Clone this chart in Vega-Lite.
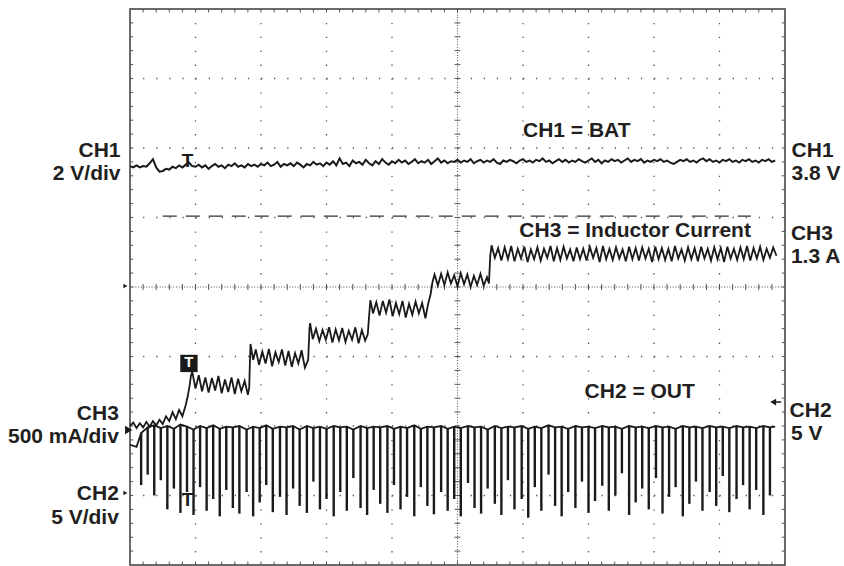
{
 "$schema": "https://vega.github.io/schema/vega-lite/v6.json",
 "width": 655, "height": 556,
 "autosize": {"type": "none"},
 "padding": {"left": 130, "top": 9, "right": 59, "bottom": 1},
 "background": "white",
 "config": {"view": {"stroke": "#3a3a3a", "strokeWidth": 1.5}, "axis": {"disable": true}, "text": {"font": "Liberation Sans"}},
 "datasets": {
  "vg": [{"v":1},{"v":2},{"v":3},{"v":4},{"v":6},{"v":7},{"v":8},{"v":9}],
  "hg": [{"v":-3},{"v":-2},{"v":-1},{"v":1},{"v":2},{"v":3}],
  "yt": [{"v":-3.8},{"v":-3.6},{"v":-3.4},{"v":-3.2},{"v":-3},{"v":-2.8},{"v":-2.6},{"v":-2.4},{"v":-2.2},{"v":-2},{"v":-1.8},{"v":-1.6},{"v":-1.4},{"v":-1.2},{"v":-1},{"v":-0.8},{"v":-0.6},{"v":-0.4},{"v":-0.2},{"v":0},{"v":0.2},{"v":0.4},{"v":0.6},{"v":0.8},{"v":1},{"v":1.2},{"v":1.4},{"v":1.6},{"v":1.8},{"v":2},{"v":2.2},{"v":2.4},{"v":2.6},{"v":2.8},{"v":3},{"v":3.2},{"v":3.4},{"v":3.6},{"v":3.8}],
  "xt": [{"v":0.2},{"v":0.4},{"v":0.6},{"v":0.8},{"v":1},{"v":1.2},{"v":1.4},{"v":1.6},{"v":1.8},{"v":2},{"v":2.2},{"v":2.4},{"v":2.6},{"v":2.8},{"v":3},{"v":3.2},{"v":3.4},{"v":3.6},{"v":3.8},{"v":4},{"v":4.2},{"v":4.4},{"v":4.6},{"v":4.8},{"v":5},{"v":5.2},{"v":5.4},{"v":5.6},{"v":5.8},{"v":6},{"v":6.2},{"v":6.4},{"v":6.6},{"v":6.8},{"v":7},{"v":7.2},{"v":7.4},{"v":7.6},{"v":7.8},{"v":8},{"v":8.2},{"v":8.4},{"v":8.6},{"v":8.8},{"v":9},{"v":9.2},{"v":9.4},{"v":9.6},{"v":9.8}],
  "ch1": [
   {"t":0,"v":1.74},{"t":0.05,"v":1.72},{"t":0.1,"v":1.75},{"t":0.15,"v":1.72},{"t":0.2,"v":1.74},{"t":0.25,"v":1.73},{"t":0.3,"v":1.78},{"t":0.35,"v":1.84},{"t":0.4,"v":1.72},{"t":0.45,"v":1.66},
   {"t":0.5,"v":1.67},{"t":0.55,"v":1.7},{"t":0.6,"v":1.69},{"t":0.65,"v":1.73},{"t":0.7,"v":1.71},{"t":0.75,"v":1.75},{"t":0.8,"v":1.72},{"t":0.85,"v":1.76},{"t":0.9,"v":1.79},{"t":0.95,"v":1.74},
   {"t":1,"v":1.73},{"t":1.05,"v":1.76},{"t":1.1,"v":1.72},{"t":1.15,"v":1.75},{"t":1.2,"v":1.7},{"t":1.25,"v":1.74},{"t":1.3,"v":1.77},{"t":1.35,"v":1.73},{"t":1.4,"v":1.75},{"t":1.45,"v":1.71},
   {"t":1.5,"v":1.76},{"t":1.55,"v":1.74},{"t":1.6,"v":1.78},{"t":1.65,"v":1.73},{"t":1.7,"v":1.75},{"t":1.75,"v":1.72},{"t":1.8,"v":1.77},{"t":1.85,"v":1.74},{"t":1.9,"v":1.76},{"t":1.95,"v":1.73},
   {"t":2,"v":1.77},{"t":2.05,"v":1.75},{"t":2.1,"v":1.79},{"t":2.15,"v":1.74},{"t":2.2,"v":1.76},{"t":2.25,"v":1.8},{"t":2.3,"v":1.73},{"t":2.35,"v":1.77},{"t":2.4,"v":1.75},{"t":2.45,"v":1.78},
   {"t":2.5,"v":1.74},{"t":2.55,"v":1.79},{"t":2.6,"v":1.76},{"t":2.65,"v":1.72},{"t":2.7,"v":1.77},{"t":2.75,"v":1.75},{"t":2.8,"v":1.8},{"t":2.85,"v":1.76},{"t":2.9,"v":1.78},{"t":2.95,"v":1.74},
   {"t":3,"v":1.79},{"t":3.05,"v":1.76},{"t":3.1,"v":1.81},{"t":3.15,"v":1.75},{"t":3.2,"v":1.85},{"t":3.25,"v":1.77},{"t":3.3,"v":1.79},{"t":3.35,"v":1.74},{"t":3.4,"v":1.82},{"t":3.45,"v":1.78},
   {"t":3.5,"v":1.8},{"t":3.55,"v":1.76},{"t":3.6,"v":1.83},{"t":3.65,"v":1.78},{"t":3.7,"v":1.75},{"t":3.75,"v":1.81},{"t":3.8,"v":1.77},{"t":3.85,"v":1.84},{"t":3.9,"v":1.79},{"t":3.95,"v":1.76},
   {"t":4,"v":1.81},{"t":4.05,"v":1.78},{"t":4.1,"v":1.83},{"t":4.15,"v":1.79},{"t":4.2,"v":1.82},{"t":4.25,"v":1.77},{"t":4.3,"v":1.8},{"t":4.35,"v":1.84},{"t":4.4,"v":1.78},{"t":4.45,"v":1.81},
   {"t":4.5,"v":1.79},{"t":4.55,"v":1.83},{"t":4.6,"v":1.77},{"t":4.65,"v":1.81},{"t":4.7,"v":1.85},{"t":4.75,"v":1.79},{"t":4.8,"v":1.82},{"t":4.85,"v":1.78},{"t":4.9,"v":1.81},{"t":4.95,"v":1.8},
   {"t":5,"v":1.83},{"t":5.05,"v":1.79},{"t":5.1,"v":1.82},{"t":5.15,"v":1.8},{"t":5.2,"v":1.84},{"t":5.25,"v":1.78},{"t":5.3,"v":1.81},{"t":5.35,"v":1.83},{"t":5.4,"v":1.79},{"t":5.45,"v":1.82},
   {"t":5.5,"v":1.8},{"t":5.55,"v":1.84},{"t":5.6,"v":1.79},{"t":5.65,"v":1.77},{"t":5.7,"v":1.82},{"t":5.75,"v":1.8},{"t":5.8,"v":1.83},{"t":5.85,"v":1.81},{"t":5.9,"v":1.78},{"t":5.95,"v":1.82},
   {"t":6,"v":1.84},{"t":6.05,"v":1.8},{"t":6.1,"v":1.82},{"t":6.15,"v":1.79},{"t":6.2,"v":1.83},{"t":6.25,"v":1.81},{"t":6.3,"v":1.85},{"t":6.35,"v":1.8},{"t":6.4,"v":1.82},{"t":6.45,"v":1.78},
   {"t":6.5,"v":1.81},{"t":6.55,"v":1.84},{"t":6.6,"v":1.8},{"t":6.65,"v":1.83},{"t":6.7,"v":1.79},{"t":6.75,"v":1.82},{"t":6.8,"v":1.8},{"t":6.85,"v":1.84},{"t":6.9,"v":1.81},{"t":6.95,"v":1.79},
   {"t":7,"v":1.82},{"t":7.05,"v":1.85},{"t":7.1,"v":1.8},{"t":7.15,"v":1.83},{"t":7.2,"v":1.78},{"t":7.25,"v":1.82},{"t":7.3,"v":1.8},{"t":7.35,"v":1.84},{"t":7.4,"v":1.81},{"t":7.45,"v":1.83},
   {"t":7.5,"v":1.79},{"t":7.55,"v":1.82},{"t":7.6,"v":1.85},{"t":7.65,"v":1.8},{"t":7.7,"v":1.83},{"t":7.75,"v":1.81},{"t":7.8,"v":1.84},{"t":7.85,"v":1.79},{"t":7.9,"v":1.82},{"t":7.95,"v":1.8},
   {"t":8,"v":1.83},{"t":8.05,"v":1.81},{"t":8.1,"v":1.84},{"t":8.15,"v":1.8},{"t":8.2,"v":1.82},{"t":8.25,"v":1.79},{"t":8.3,"v":1.77},{"t":8.35,"v":1.8},{"t":8.4,"v":1.83},{"t":8.45,"v":1.81},
   {"t":8.5,"v":1.84},{"t":8.55,"v":1.8},{"t":8.6,"v":1.82},{"t":8.65,"v":1.79},{"t":8.7,"v":1.83},{"t":8.75,"v":1.85},{"t":8.8,"v":1.81},{"t":8.85,"v":1.84},{"t":8.9,"v":1.8},{"t":8.95,"v":1.82},
   {"t":9,"v":1.79},{"t":9.05,"v":1.83},{"t":9.1,"v":1.81},{"t":9.15,"v":1.84},{"t":9.2,"v":1.8},{"t":9.25,"v":1.82},{"t":9.3,"v":1.79},{"t":9.35,"v":1.83},{"t":9.4,"v":1.81},{"t":9.45,"v":1.84},
   {"t":9.5,"v":1.8},{"t":9.55,"v":1.82},{"t":9.6,"v":1.79},{"t":9.65,"v":1.83},{"t":9.7,"v":1.81},{"t":9.75,"v":1.84},{"t":9.8,"v":1.8},{"t":9.85,"v":1.82}
  ],
  "ch3": [
   {"t":0,"v":-2},{"t":0.05,"v":-1.95},{"t":0.1,"v":-2.03},{"t":0.15,"v":-1.96},{"t":0.2,"v":-2.02},{"t":0.25,"v":-1.94},{"t":0.3,"v":-2.01},{"t":0.35,"v":-1.93},{"t":0.4,"v":-1.99},{"t":0.45,"v":-1.91},
   {"t":0.5,"v":-1.97},{"t":0.55,"v":-1.86},{"t":0.6,"v":-1.93},{"t":0.65,"v":-1.8},{"t":0.7,"v":-1.9},{"t":0.75,"v":-1.77},{"t":0.8,"v":-1.86},{"t":0.85,"v":-1.7},{"t":0.88,"v":-1.58},{"t":0.91,"v":-1.42},{"t":0.93,"v":-1.28},
   {"t":0.95,"v":-1.22},{"t":1,"v":-1.46},{"t":1.05,"v":-1.27},{"t":1.1,"v":-1.5},{"t":1.15,"v":-1.3},{"t":1.2,"v":-1.52},{"t":1.25,"v":-1.31},{"t":1.3,"v":-1.49},{"t":1.35,"v":-1.28},{"t":1.4,"v":-1.53},
   {"t":1.45,"v":-1.33},{"t":1.5,"v":-1.51},{"t":1.55,"v":-1.3},{"t":1.6,"v":-1.54},{"t":1.65,"v":-1.32},{"t":1.7,"v":-1.5},{"t":1.75,"v":-1.35},{"t":1.8,"v":-1.55},{"t":1.82,"v":-1.45},{"t":1.83,"v":-1.1},
   {"t":1.84,"v":-0.82},{"t":1.88,"v":-1.05},{"t":1.92,"v":-0.9},{"t":1.97,"v":-1.12},{"t":2.02,"v":-0.93},{"t":2.07,"v":-1.1},{"t":2.12,"v":-0.89},{"t":2.17,"v":-1.14},{"t":2.22,"v":-0.94},{"t":2.27,"v":-1.08},
   {"t":2.32,"v":-0.9},{"t":2.37,"v":-1.13},{"t":2.42,"v":-0.92},{"t":2.47,"v":-1.15},{"t":2.52,"v":-0.95},{"t":2.57,"v":-1.1},{"t":2.62,"v":-0.91},{"t":2.67,"v":-1.16},{"t":2.72,"v":-1.05},{"t":2.74,"v":-0.6},
   {"t":2.75,"v":-0.52},{"t":2.79,"v":-0.75},{"t":2.84,"v":-0.6},{"t":2.89,"v":-0.78},{"t":2.94,"v":-0.62},{"t":2.99,"v":-0.76},{"t":3.04,"v":-0.58},{"t":3.09,"v":-0.8},{"t":3.14,"v":-0.61},{"t":3.19,"v":-0.77},
   {"t":3.24,"v":-0.59},{"t":3.29,"v":-0.79},{"t":3.34,"v":-0.63},{"t":3.39,"v":-0.76},{"t":3.44,"v":-0.58},{"t":3.49,"v":-0.81},{"t":3.54,"v":-0.62},{"t":3.59,"v":-0.77},{"t":3.63,"v":-0.68},{"t":3.66,"v":-0.3},
   {"t":3.67,"v":-0.19},{"t":3.71,"v":-0.38},{"t":3.76,"v":-0.22},{"t":3.81,"v":-0.41},{"t":3.86,"v":-0.2},{"t":3.91,"v":-0.37},{"t":3.96,"v":-0.18},{"t":4.01,"v":-0.42},{"t":4.06,"v":-0.23},{"t":4.11,"v":-0.39},
   {"t":4.16,"v":-0.2},{"t":4.21,"v":-0.44},{"t":4.26,"v":-0.24},{"t":4.31,"v":-0.4},{"t":4.36,"v":-0.21},{"t":4.41,"v":-0.38},{"t":4.46,"v":-0.23},{"t":4.51,"v":-0.45},{"t":4.55,"v":-0.25},{"t":4.59,"v":-0.1},{"t":4.62,"v":0.08},
   {"t":4.65,"v":0.18},{"t":4.7,"v":0.02},{"t":4.75,"v":0.19},{"t":4.8,"v":0.03},{"t":4.85,"v":0.21},{"t":4.9,"v":0.05},{"t":4.95,"v":0.17},{"t":5,"v":0.01},{"t":5.05,"v":0.2},{"t":5.1,"v":0.04},
   {"t":5.15,"v":0.18},{"t":5.2,"v":0},{"t":5.25,"v":0.16},{"t":5.3,"v":0.03},{"t":5.35,"v":0.19},{"t":5.4,"v":0.02},{"t":5.45,"v":0.14},{"t":5.48,"v":0.05},{"t":5.5,"v":0.45},
   {"t":5.52,"v":0.6},{"t":5.57,"v":0.42},{"t":5.62,"v":0.56},{"t":5.67,"v":0.38},{"t":5.72,"v":0.57},{"t":5.77,"v":0.4},{"t":5.82,"v":0.59},{"t":5.87,"v":0.37},{"t":5.92,"v":0.55},{"t":5.97,"v":0.41},
   {"t":6.02,"v":0.58},{"t":6.07,"v":0.36},{"t":6.12,"v":0.54},{"t":6.17,"v":0.4},{"t":6.22,"v":0.57},{"t":6.27,"v":0.38},{"t":6.32,"v":0.55},{"t":6.37,"v":0.42},{"t":6.42,"v":0.59},{"t":6.47,"v":0.37},
   {"t":6.52,"v":0.56},{"t":6.57,"v":0.39},{"t":6.62,"v":0.58},{"t":6.67,"v":0.41},{"t":6.72,"v":0.54},{"t":6.77,"v":0.37},{"t":6.82,"v":0.57},{"t":6.87,"v":0.4},{"t":6.92,"v":0.55},{"t":6.97,"v":0.38},
   {"t":7.02,"v":0.58},{"t":7.07,"v":0.42},{"t":7.12,"v":0.56},{"t":7.17,"v":0.36},{"t":7.22,"v":0.59},{"t":7.27,"v":0.4},{"t":7.32,"v":0.55},{"t":7.37,"v":0.39},{"t":7.42,"v":0.57},{"t":7.47,"v":0.41},
   {"t":7.52,"v":0.54},{"t":7.57,"v":0.37},{"t":7.62,"v":0.58},{"t":7.67,"v":0.4},{"t":7.72,"v":0.56},{"t":7.77,"v":0.38},{"t":7.82,"v":0.57},{"t":7.87,"v":0.41},{"t":7.92,"v":0.55},{"t":7.97,"v":0.36},
   {"t":8.02,"v":0.58},{"t":8.07,"v":0.4},{"t":8.12,"v":0.56},{"t":8.17,"v":0.39},{"t":8.22,"v":0.55},{"t":8.27,"v":0.37},{"t":8.32,"v":0.59},{"t":8.37,"v":0.41},{"t":8.42,"v":0.54},{"t":8.47,"v":0.38},
   {"t":8.52,"v":0.57},{"t":8.57,"v":0.4},{"t":8.62,"v":0.56},{"t":8.67,"v":0.37},{"t":8.72,"v":0.58},{"t":8.77,"v":0.41},{"t":8.82,"v":0.55},{"t":8.87,"v":0.38},{"t":8.92,"v":0.57},{"t":8.97,"v":0.4},
   {"t":9.02,"v":0.56},{"t":9.07,"v":0.36},{"t":9.12,"v":0.58},{"t":9.17,"v":0.41},{"t":9.22,"v":0.55},{"t":9.27,"v":0.39},{"t":9.32,"v":0.57},{"t":9.37,"v":0.4},{"t":9.42,"v":0.59},{"t":9.47,"v":0.38},
   {"t":9.52,"v":0.56},{"t":9.57,"v":0.41},{"t":9.62,"v":0.58},{"t":9.67,"v":0.39},{"t":9.72,"v":0.55},{"t":9.77,"v":0.42},{"t":9.82,"v":0.57},{"t":9.87,"v":0.45}
  ],
  "ch2": [
   {"t":0,"hi":-2.27,"lo":-2.27},{"t":0.1,"hi":-2.3,"lo":-2.3},{"t":0.17,"hi":-2.1,"lo":-2.85},{"t":0.27,"hi":-2.02,"lo":-2.7},{"t":0.37,"hi":-1.99,"lo":-3},{"t":0.47,"hi":-2.03,"lo":-2.78},{"t":0.57,"hi":-2,"lo":-3.2},{"t":0.67,"hi":-2.04,"lo":-2.9},{"t":0.77,"hi":-1.98,"lo":-3.25},{"t":0.87,"hi":-2.01,"lo":-2.95},
   {"t":0.97,"hi":-2.05,"lo":-3.28},{"t":1.07,"hi":-2,"lo":-2.88},{"t":1.17,"hi":-2.03,"lo":-3.22},{"t":1.27,"hi":-1.99,"lo":-3.05},{"t":1.37,"hi":-2.04,"lo":-3.3},{"t":1.47,"hi":-2.01,"lo":-2.92},{"t":1.57,"hi":-2.02,"lo":-3.18},{"t":1.67,"hi":-2,"lo":-3.26},{"t":1.78,"hi":-2.05,"lo":-2.95},{"t":1.88,"hi":-2.01,"lo":-3.3},
   {"t":1.98,"hi":-2.03,"lo":-3.1},{"t":2.08,"hi":-1.99,"lo":-2.85},{"t":2.18,"hi":-2.04,"lo":-3.24},{"t":2.29,"hi":-2.01,"lo":-3.02},{"t":2.39,"hi":-2.02,"lo":-3.28},{"t":2.49,"hi":-2,"lo":-2.9},{"t":2.59,"hi":-2.05,"lo":-3.15},{"t":2.7,"hi":-2,"lo":-3.25},{"t":2.8,"hi":-2.03,"lo":-2.8},{"t":2.9,"hi":-2.01,"lo":-3.2},
   {"t":3,"hi":-2.04,"lo":-3.05},{"t":3.11,"hi":-2,"lo":-3.3},{"t":3.21,"hi":-2.02,"lo":-2.95},{"t":3.31,"hi":-2.01,"lo":-3.22},{"t":3.41,"hi":-2.05,"lo":-2.75},{"t":3.52,"hi":-2,"lo":-3.18},{"t":3.62,"hi":-2.03,"lo":-3.28},{"t":3.72,"hi":-2.01,"lo":-2.92},{"t":3.82,"hi":-2.02,"lo":-3.12},{"t":3.93,"hi":-2,"lo":-3.25},
   {"t":4.03,"hi":-2.04,"lo":-2.85},{"t":4.13,"hi":-2.01,"lo":-3.2},{"t":4.23,"hi":-2.03,"lo":-3.02},{"t":4.34,"hi":-1.99,"lo":-3.3},{"t":4.44,"hi":-2.04,"lo":-2.88},{"t":4.54,"hi":-2.01,"lo":-3.15},{"t":4.64,"hi":-2.02,"lo":-3.27},{"t":4.75,"hi":-2,"lo":-2.95},{"t":4.85,"hi":-2.04,"lo":-3.22},{"t":4.95,"hi":-2.01,"lo":-3.05},
   {"t":5.05,"hi":-2.03,"lo":-3.3},{"t":5.16,"hi":-2,"lo":-2.82},{"t":5.26,"hi":-2.02,"lo":-3.18},{"t":5.36,"hi":-2.01,"lo":-3.26},{"t":5.46,"hi":-2.05,"lo":-2.9},{"t":5.57,"hi":-2,"lo":-3.12},{"t":5.67,"hi":-2.03,"lo":-3.28},{"t":5.77,"hi":-2.01,"lo":-2.78},{"t":5.87,"hi":-2.02,"lo":-3.2},{"t":5.98,"hi":-2,"lo":-3.05},
   {"t":6.08,"hi":-2.04,"lo":-3.32},{"t":6.18,"hi":-2.01,"lo":-2.88},{"t":6.28,"hi":-2.03,"lo":-3.22},{"t":6.39,"hi":-1.99,"lo":-2.7},{"t":6.49,"hi":-2.02,"lo":-3.15},{"t":6.59,"hi":-2.01,"lo":-3.3},{"t":6.69,"hi":-2.04,"lo":-2.95},{"t":6.8,"hi":-2,"lo":-3.18},{"t":6.9,"hi":-2.02,"lo":-2.8},{"t":7,"hi":-2.01,"lo":-3.25},
   {"t":7.1,"hi":-2.03,"lo":-3.08},{"t":7.21,"hi":-2,"lo":-2.86},{"t":7.31,"hi":-2.02,"lo":-3.22},{"t":7.41,"hi":-2.01,"lo":-3},{"t":7.51,"hi":-2.04,"lo":-2.68},{"t":7.62,"hi":-2,"lo":-3.28},{"t":7.72,"hi":-2.02,"lo":-3.1},{"t":7.82,"hi":-2.01,"lo":-2.9},{"t":7.92,"hi":-2.03,"lo":-3.2},{"t":8.03,"hi":-2,"lo":-2.75},
   {"t":8.13,"hi":-2.02,"lo":-3.26},{"t":8.23,"hi":-2.01,"lo":-3.02},{"t":8.33,"hi":-2.04,"lo":-2.88},{"t":8.44,"hi":-2,"lo":-3.3},{"t":8.54,"hi":-2.02,"lo":-3.12},{"t":8.64,"hi":-2.01,"lo":-2.8},{"t":8.74,"hi":-2.03,"lo":-3.22},{"t":8.85,"hi":-2,"lo":-2.95},{"t":8.95,"hi":-2.02,"lo":-3.15},{"t":9.05,"hi":-2.01,"lo":-2.72},
   {"t":9.15,"hi":-2.03,"lo":-3.24},{"t":9.26,"hi":-2,"lo":-3.05},{"t":9.36,"hi":-2.02,"lo":-2.85},{"t":9.46,"hi":-2.01,"lo":-3.2},{"t":9.56,"hi":-2.03,"lo":-2.92},{"t":9.67,"hi":-2,"lo":-3.28},{"t":9.77,"hi":-2.02,"lo":-3},{"t":9.85,"hi":-2.01,"lo":-2.01}
  ],
  "lblRightAligned": [
   {"x":-0.145,"y":1.871,"s":"CH1"},{"x":-0.145,"y":1.54,"s":"2 V/div"},
   {"x":-0.17,"y":-1.914,"s":"CH3"},{"x":-0.17,"y":-2.245,"s":"500 mA/div"},
   {"x":-0.17,"y":-3.065,"s":"CH2"},{"x":-0.17,"y":-3.41,"s":"5 V/div"},
   {"x":9.48,"y":0.719,"s":"CH3 = Inductor Current"}
  ],
  "lblLeftAligned": [
   {"x":10.1,"y":1.871,"s":"CH1"},{"x":10.1,"y":1.54,"s":"3.8 V"},
   {"x":10.09,"y":0.676,"s":"CH3"},{"x":10.09,"y":0.345,"s":"1.3 A"},
   {"x":10.07,"y":-1.871,"s":"CH2"},{"x":10.09,"y":-2.201,"s":"5 V"},
   {"x":6.0,"y":2.158,"s":"CH1 = BAT"},{"x":6.94,"y":-1.597,"s":"CH2 = OUT"}
  ],
  "trigT": [{"x":0.88,"y":1.727},{"x":0.88,"y":-3.15}]
 },
 "layer": [
  {"data": {"name": "vg"}, "mark": {"type": "rule", "color": "#555", "strokeWidth": 1.3, "strokeDash": [1.3, 12.6]},
   "encoding": {"x": {"field": "v", "type": "quantitative", "scale": {"domain": [0, 10], "nice": false, "zero": false}}, "y": {"datum": 4, "scale": {"domain": [-4, 4], "nice": false, "zero": false}}, "y2": {"datum": -4}}},
  {"data": {"name": "hg"}, "mark": {"type": "rule", "color": "#555", "strokeWidth": 1.3, "strokeDash": [1.3, 11.8]},
   "encoding": {"y": {"field": "v", "type": "quantitative"}, "x": {"datum": 0}, "x2": {"datum": 10}}},
  {"data": {"values": [{"c": 5}]}, "mark": {"type": "rule", "color": "#555", "strokeWidth": 1.1, "strokeDash": [1, 1.7]},
   "encoding": {"x": {"field": "c", "type": "quantitative"}, "y": {"datum": 4}, "y2": {"datum": -4}}},
  {"data": {"values": [{"c": 0}]}, "mark": {"type": "rule", "color": "#555", "strokeWidth": 1.1, "strokeDash": [1, 1.7]},
   "encoding": {"y": {"field": "c", "type": "quantitative"}, "x": {"datum": 0}, "x2": {"datum": 10}}},
  {"data": {"name": "yt"}, "mark": {"type": "rule", "color": "#555", "strokeWidth": 1},
   "encoding": {"y": {"field": "v", "type": "quantitative"}, "x": {"datum": 4.955}, "x2": {"datum": 5.045}}},
  {"data": {"name": "xt"}, "mark": {"type": "rule", "color": "#555", "strokeWidth": 1},
   "encoding": {"x": {"field": "v", "type": "quantitative"}, "y": {"datum": -0.043}, "y2": {"datum": 0.043}}},
  {"data": {"name": "yt"}, "mark": {"type": "rule", "color": "#555", "strokeWidth": 1},
   "encoding": {"y": {"field": "v", "type": "quantitative"}, "x": {"datum": 0}, "x2": {"datum": 0.05}}},
  {"data": {"name": "yt"}, "mark": {"type": "rule", "color": "#555", "strokeWidth": 1},
   "encoding": {"y": {"field": "v", "type": "quantitative"}, "x": {"datum": 9.95}, "x2": {"datum": 10}}},
  {"data": {"name": "xt"}, "mark": {"type": "rule", "color": "#555", "strokeWidth": 1},
   "encoding": {"x": {"field": "v", "type": "quantitative"}, "y": {"datum": 4}, "y2": {"datum": 3.95}}},
  {"data": {"name": "xt"}, "mark": {"type": "rule", "color": "#555", "strokeWidth": 1},
   "encoding": {"x": {"field": "v", "type": "quantitative"}, "y": {"datum": -4}, "y2": {"datum": -3.95}}},
  {"data": {"values": [{"c": 1.02}]}, "mark": {"type": "rule", "color": "#333", "strokeWidth": 1.4, "strokeDash": [14, 9]},
   "encoding": {"y": {"field": "c", "type": "quantitative"}, "x": {"datum": 0.5}, "x2": {"datum": 9.48}}},
  {"data": {"name": "ch2"}, "mark": {"type": "rule", "color": "#1a1a1a", "strokeWidth": 2.4},
   "encoding": {"x": {"field": "t", "type": "quantitative"}, "y": {"field": "hi", "type": "quantitative"}, "y2": {"field": "lo"}}},
  {"data": {"name": "ch2"}, "mark": {"type": "line", "color": "#1a1a1a", "strokeWidth": 1.8},
   "encoding": {"x": {"field": "t", "type": "quantitative"}, "y": {"field": "hi", "type": "quantitative"}}},
  {"data": {"name": "ch1"}, "mark": {"type": "line", "color": "#1a1a1a", "strokeWidth": 2},
   "encoding": {"x": {"field": "t", "type": "quantitative"}, "y": {"field": "v", "type": "quantitative"}}},
  {"data": {"name": "ch3"}, "mark": {"type": "line", "color": "#1a1a1a", "strokeWidth": 1.8},
   "encoding": {"x": {"field": "t", "type": "quantitative"}, "y": {"field": "v", "type": "quantitative"}}},
  {"data": {"name": "trigT"}, "mark": {"type": "text", "text": "T", "fontSize": 19, "fontWeight": "bold", "color": "#1a1a1a", "baseline": "alphabetic", "align": "center"},
   "encoding": {"x": {"field": "x", "type": "quantitative"}, "y": {"field": "y", "type": "quantitative"}}},
  {"data": {"values": [{"c": 0.9}]}, "mark": {"type": "point", "shape": "square", "size": 300, "filled": true, "color": "#1a1a1a", "opacity": 1},
   "encoding": {"x": {"field": "c", "type": "quantitative"}, "y": {"datum": -1.1}}},
  {"data": {"values": [{"c": 0.9}]}, "mark": {"type": "text", "text": "T", "fontSize": 15, "fontWeight": "bold", "color": "white", "baseline": "middle", "align": "center"},
   "encoding": {"x": {"field": "c", "type": "quantitative"}, "y": {"datum": -1.08}}},
  {"data": {"values": [{"c": -0.07, "d": 0.014}, {"c": -0.07, "d": -2.964}]}, "mark": {"type": "point", "shape": "triangle-right", "size": 22, "filled": true, "color": "#1a1a1a", "opacity": 1},
   "encoding": {"x": {"field": "c", "type": "quantitative"}, "y": {"field": "d", "type": "quantitative"}}},
  {"data": {"values": [{"c": -0.02, "d": -2.058}]}, "mark": {"type": "point", "shape": "triangle-right", "size": 70, "filled": true, "color": "#1a1a1a", "opacity": 1},
   "encoding": {"x": {"field": "c", "type": "quantitative"}, "y": {"field": "d", "type": "quantitative"}}},
  {"data": {"values": [{"c": 9.82, "d": -1.655}]}, "mark": {"type": "point", "shape": "triangle-left", "size": 45, "filled": true, "color": "#1a1a1a", "opacity": 1},
   "encoding": {"x": {"field": "c", "type": "quantitative"}, "y": {"field": "d", "type": "quantitative"}}},
  {"data": {"values": [{"d": -1.655}]}, "mark": {"type": "rule", "color": "#1a1a1a", "strokeWidth": 1.5},
   "encoding": {"y": {"field": "d", "type": "quantitative"}, "x": {"datum": 9.82}, "x2": {"datum": 9.94}}},
  {"data": {"name": "lblRightAligned"}, "mark": {"type": "text", "align": "right", "baseline": "alphabetic", "fontSize": 21, "fontWeight": "bold", "color": "#231f20"},
   "encoding": {"x": {"field": "x", "type": "quantitative"}, "y": {"field": "y", "type": "quantitative"}, "text": {"field": "s"}}},
  {"data": {"name": "lblLeftAligned"}, "mark": {"type": "text", "align": "left", "baseline": "alphabetic", "fontSize": 21, "fontWeight": "bold", "color": "#231f20"},
   "encoding": {"x": {"field": "x", "type": "quantitative"}, "y": {"field": "y", "type": "quantitative"}, "text": {"field": "s"}}}
 ]
}
